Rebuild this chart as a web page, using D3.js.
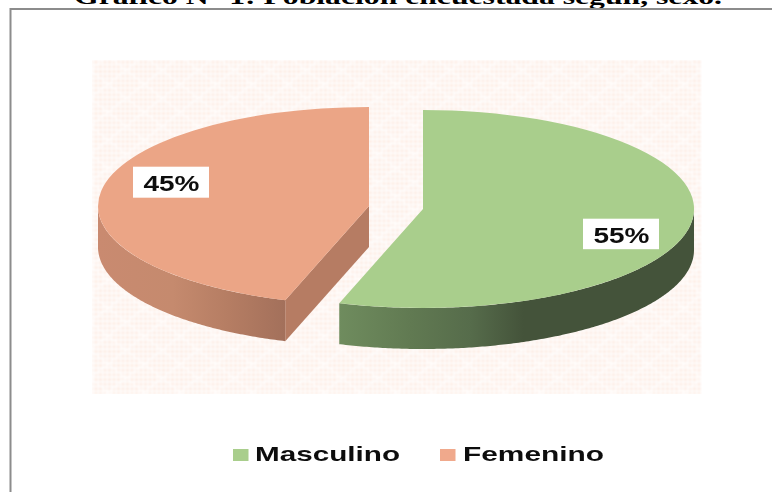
<!DOCTYPE html>
<html>
<head>
<meta charset="utf-8">
<script src="https://cdn.jsdelivr.net/npm/d3@7"></script>
<style>
  html, body { margin: 0; padding: 0; background: #ffffff; overflow: hidden; }
  svg { display: block; }
</style>
</head>
<body>
<script>
const categories = ['Masculino', 'Femenino'];
const values = [55, 45];
const valueLabels = ['55%', '45%'];
const titleText = 'Gráfico N° 1: Población encuestada según, sexo.';

const width = 772;
const height = 492;
const rx = 271;
const ry = 99;
const depth = 41;
// exploded slice centres, one per category
const centers = [{ x: 423, y: 209 }, { x: 369, y: 206 }];
const topColors = ['#a9ce8c', '#eba586'];
const cutColor = '#b67c63';

const svg = d3.select('body').append('svg')
    .attr('width', width)
    .attr('height', height);
const defs = svg.append('defs');

// The reference is a soft, rescaled image
defs.append('filter')
    .attr('id', 'soft')
    .append('feGaussianBlur')
    .attr('stdDeviation', 0.5);
defs.append('filter')
    .attr('id', 'softer')
    .attr('x', 0).attr('y', 0).attr('width', 1).attr('height', 1)
    .append('feGaussianBlur')
    .attr('stdDeviation', 0.8);

// Background weave: small dots broken up by a white lattice
const tileW = 36;
const tileH = 28;
const pattern = defs.append('pattern')
    .attr('id', 'weave')
    .attr('patternUnits', 'userSpaceOnUse')
    .attr('width', tileW)
    .attr('height', tileH);
pattern.append('rect').attr('width', tileW).attr('height', tileH).attr('fill', '#ffffff');
const dotX = d3.range(0, tileW, 4.5);
const dotY = d3.range(0, tileH, 4.67);
dotY.forEach((y) => dotX.forEach((x) => {
    pattern.append('rect')
        .attr('x', x).attr('y', y)
        .attr('width', 3).attr('height', 3)
        .attr('fill', '#fde9df');
}));
pattern.append('path')
    .attr('d', `M0 0L${tileW} ${tileH}M${tileW} 0L0 ${tileH}`)
    .attr('stroke', '#ffffff')
    .attr('stroke-opacity', 0.7)
    .attr('stroke-width', 1.4);

// Side wall shading, left to right
const greenGrad = defs.append('linearGradient')
    .attr('id', 'wall-0')
    .attr('gradientUnits', 'userSpaceOnUse')
    .attr('x1', 339).attr('x2', 694).attr('y1', 0).attr('y2', 0);
[[0, '#6f8c5e'], [0.2, '#617a52'], [0.37, '#566c4b'], [0.52, '#44533a'], [1, '#44533a']]
    .forEach(([o, c]) => greenGrad.append('stop').attr('offset', o).attr('stop-color', c));

const orangeGrad = defs.append('linearGradient')
    .attr('id', 'wall-1')
    .attr('gradientUnits', 'userSpaceOnUse')
    .attr('x1', 98).attr('x2', 285).attr('y1', 0).attr('y2', 0);
[[0, '#c98a70'], [0.4, '#c58a6e'], [0.7, '#b57d63'], [1, '#a3705b']]
    .forEach(([o, c]) => orangeGrad.append('stop').attr('offset', o).attr('stop-color', c));

// Title (cut off by the top of the page, as in the reference)
svg.append('text')
    .attr('x', 398)
    .attr('y', 4)
    .attr('text-anchor', 'middle')
    .attr('font-family', '"Liberation Serif", serif')
    .attr('font-weight', 700)
    .attr('font-size', 22)
    .attr('textLength', 648)
    .attr('lengthAdjust', 'spacingAndGlyphs')
    .attr('fill', '#000000')
    .text(titleText);

// Frame: top and left edges only are visible
svg.append('path')
    .attr('d', `M${width} 9H10.5V${height}`)
    .attr('fill', 'none')
    .attr('stroke', '#8c8c8c')
    .attr('stroke-width', 2);

// Plot background
svg.append('rect')
    .attr('x', 92)
    .attr('y', 60)
    .attr('width', 610)
    .attr('height', 334)
    .attr('fill', 'url(#weave)')
    .attr('filter', 'url(#softer)');

const pie = d3.pie().sort(null).value((d) => d);
const slices = pie(values);
const arcUnit = d3.arc().innerRadius(0).outerRadius(1);

const rimX = (c, a) => c.x + rx * Math.sin(a);
const rimY = (c, a) => c.y - ry * Math.cos(a);

const wall = (c) => d3.area()
    .x((a) => rimX(c, a))
    .y0((a) => rimY(c, a))
    .y1((a) => rimY(c, a) + depth);

const frontEnd = Math.PI / 2;
const frontStart = Math.PI * 3 / 2;

// Green wall: from the right extreme round to the slice end
{
    const c = centers[0];
    const s = slices[0];
    const from = Math.max(s.startAngle, frontEnd);
    const angles = d3.range(from, s.endAngle, 0.01).concat(s.endAngle);
    svg.append('path')
        .attr('d', wall(c)(angles))
        .attr('fill', 'url(#wall-0)');
}

// Orange cut face from the centre out to the rim, then its wall
{
    const c = centers[1];
    const s = slices[1];
    const a = s.startAngle;
    const cut = d3.path();
    cut.moveTo(c.x, c.y);
    cut.lineTo(rimX(c, a), rimY(c, a));
    cut.lineTo(rimX(c, a), rimY(c, a) + depth);
    cut.lineTo(c.x, c.y + depth);
    cut.closePath();
    svg.append('path').attr('d', cut.toString()).attr('fill', cutColor);

    const to = Math.min(s.endAngle, frontStart);
    const angles = d3.range(a, to, 0.01).concat(to);
    svg.append('path')
        .attr('d', wall(c)(angles))
        .attr('fill', 'url(#wall-1)');
}

// Top faces: a unit arc squashed into an ellipse
slices.forEach((s, i) => {
    svg.append('path')
        .attr('transform', `translate(${centers[i].x},${centers[i].y}) scale(${rx},${ry})`)
        .attr('d', arcUnit(s))
        .attr('fill', topColors[i]);
});

// Value labels on white boxes
const labelBoxes = [{ x: 583, y: 218.7, w: 76, h: 30.5 }, { x: 133, y: 166.7, w: 76, h: 31 }];
valueLabels.forEach((t, i) => {
    const b = labelBoxes[i];
    svg.append('rect')
        .attr('x', b.x).attr('y', b.y)
        .attr('width', b.w).attr('height', b.h)
        .attr('fill', '#ffffff');
    svg.append('text')
        .attr('x', b.x + b.w / 2 + 0.5)
        .attr('y', b.y + 24.2)
        .attr('text-anchor', 'middle')
        .attr('font-family', '"Liberation Sans", sans-serif')
        .attr('font-weight', 700)
        .attr('font-size', 22)
        .attr('textLength', 56)
        .attr('lengthAdjust', 'spacingAndGlyphs')
        .attr('fill', '#111111')
        .attr('filter', 'url(#soft)')
        .text(t);
});

// Legend
const legendX = [233, 440];
const legendTextX = [255, 463];
const legendTextW = [145, 141];
const legendColors = ['#a9ce8c', '#f0a98c'];
categories.forEach((name, i) => {
    svg.append('rect')
        .attr('x', legendX[i]).attr('y', 449)
        .attr('width', 15.5).attr('height', 12)
        .attr('fill', legendColors[i]);
    svg.append('text')
        .attr('x', legendTextX[i])
        .attr('y', 461)
        .attr('font-family', '"Liberation Sans", sans-serif')
        .attr('font-weight', 700)
        .attr('font-size', 21)
        .attr('textLength', legendTextW[i])
        .attr('lengthAdjust', 'spacingAndGlyphs')
        .attr('fill', '#111111')
        .attr('filter', 'url(#soft)')
        .text(name);
});
</script>
</body>
</html>
